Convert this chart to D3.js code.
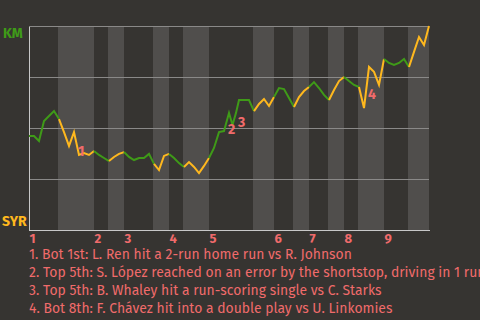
<!DOCTYPE html>
<html><head><meta charset="utf-8">
<script src="https://cdn.jsdelivr.net/npm/d3@7"></script>
<style>
html,body{margin:0;padding:0;background:#363431;overflow:hidden;}
svg{display:block;}
</style></head>
<body>
<svg id="c" width="480" height="320"></svg>
<script>
// ---- data ----
const teams = ["KM", "SYR"];            // top = KM, bottom = SYR
const innings = ["1","2","3","4","5","6","7","8","9"];
// half-inning boundaries in play index (top1, bot1, top2, ...)
const halfStarts = [0,6,13,16,19,25,28,31,36,45,49,53,56,60,63,66,71,76,80];
const plays = [0,1,2,3,4,5,6,7,8,9,10,11,12,13,14,15,16,17,18,19,20,21,22,23,24,25,26,27,28,29,
  30,31,32,33,34,35,36,37,38,39,40,40.7,41.4,42,43,44,45,46,47,48,49,50,51,52,53,54,55,56,57,58,59,
  60,61,62,63,64,65,66,67,68,69,70,71,72,73,74,75,76,77,78,79,80];
const winProb = [0.461,0.461,0.436,0.534,0.559,0.583,0.544,0.480,0.412,0.480,0.368,0.377,0.368,0.387,
  0.368,0.353,0.338,0.358,0.373,0.382,0.358,0.343,0.353,0.353,0.373,0.324,0.294,0.363,0.373,0.353,
  0.328,0.309,0.333,0.309,0.279,0.314,0.353,0.402,0.480,0.485,0.574,0.515,0.574,0.637,0.637,0.637,
  0.583,0.618,0.642,0.608,0.652,0.696,0.691,0.647,0.603,0.652,0.681,0.701,0.725,0.696,0.662,
  0.637,0.686,0.730,0.750,0.730,0.711,0.701,0.598,0.799,0.775,0.711,0.838,0.819,0.809,0.819,0.838,
  0.799,0.873,0.946,0.907,1.000];
const gridValues = [0.25,0.5,0.75,1];
const annoIds = ["1","2","3","4"];
const annoPlay = [9.8,39.8,41.8,67.8];
const annoWp = [0.363,0.471,0.505,0.642];
const annoText = [
  "1. Bot 1st: L. Ren hit a 2-run home run vs R. Johnson",
  "2. Top 5th: S. López reached on an error by the shortstop, driving in 1 run",
  "3. Top 5th: B. Whaley hit a run-scoring single vs C. Starks",
  "4. Bot 8th: F. Chávez hit into a double play vs U. Linkomies"
];

// ---- style ----
const C = {bg:"#363431", band:"#504e4c", grid:"#8a8988", axis:"#c8c8c8",
  top:"#3f9a18", bot:"#ffb81e", note:"#f06b6b"};
const FONT = "'Fira Sans','Open Sans','Noto Sans',sans-serif";

const svg = d3.select("#c");
const x = d3.scaleLinear().domain([0,80]).range([29,429]);
const y = d3.scaleLinear().domain([0,1]).range([230,26]);

// bands for bottom halves
const halves = d3.range(halfStarts.length-1).map(i=>({i, s:halfStarts[i], e:halfStarts[i+1], top:i%2===0}));
svg.append("g").selectAll("rect").data(halves.filter(h=>!h.top)).join("rect")
  .attr("x", d=>x(d.s)-1).attr("width", d=>x(d.e)-x(d.s)+1)
  .attr("y", y(1)).attr("height", y(0)-y(1)).attr("fill", C.band);

// grid
const grid = svg.append("g").attr("transform",`translate(${x(0)},0)`)
  .call(d3.axisLeft(y).tickValues(gridValues).tickSize(-(x(80)-x(0))).tickFormat(""));
grid.select(".domain").remove();
grid.selectAll("line").attr("stroke", C.grid).attr("shape-rendering","crispEdges");

// left axis line
const la = svg.append("g").attr("transform",`translate(${x(0)},0)`)
  .call(d3.axisLeft(y).tickValues([]).tickSizeOuter(0));
la.select(".domain").attr("stroke", C.axis).attr("shape-rendering","crispEdges");

// bottom axis with inning labels
const inningStarts = halfStarts.filter((d,i)=>i%2===0 && i<18);
const ba = svg.append("g").attr("transform",`translate(0,${y(0)})`)
  .call(d3.axisBottom(x).tickValues(inningStarts).tickSize(0).tickSizeOuter(0)
    .tickFormat((d,i)=>innings[i]));
ba.select(".domain").attr("stroke", C.axis).attr("shape-rendering","crispEdges");
ba.selectAll("text").attr("text-anchor","start").attr("fill", C.note)
  .attr("font-family", FONT).attr("font-weight","bold").attr("font-size",13)
  .attr("dy", null).attr("y", 13);

// line segments per half inning
const pts = plays.map((p,i)=>({p, v:winProb[i]}));
const line = d3.line().x(d=>x(d.p)).y(d=>y(d.v));
svg.append("g").selectAll("path").data(halves).join("path")
  .attr("d", h=>line(pts.filter(d=>d.p>=h.s && d.p<=h.e)))
  .attr("fill","none").attr("stroke", h=>h.top?C.top:C.bot).attr("stroke-width",2);

// team labels
svg.append("text").attr("x",3).attr("y",38).text(teams[0]).attr("fill",C.top)
  .attr("font-family",FONT).attr("font-weight","bold").attr("font-size",14);
svg.append("text").attr("x",2).attr("y",226).text(teams[1]).attr("fill",C.bot)
  .attr("font-family",FONT).attr("font-weight","bold").attr("font-size",14);

// annotation markers
svg.append("g").selectAll("text").data(annoIds).join("text")
  .attr("x",(d,i)=>x(annoPlay[i])).attr("y",(d,i)=>y(annoWp[i])).text(d=>d)
  .attr("fill",C.note).attr("font-family",FONT).attr("font-weight","bold").attr("font-size",14);

// annotation texts
const notes = svg.append("g").selectAll("text").data(annoText).join("text")
  .attr("x",29).attr("y",(d,i)=>259+18*i).text(d=>d)
  .attr("fill",C.note).attr("font-family",FONT).attr("font-size",14);
const w0 = notes.node().getComputedTextLength();
notes.attr("font-size", 14*323/w0);
</script>
</body></html>
